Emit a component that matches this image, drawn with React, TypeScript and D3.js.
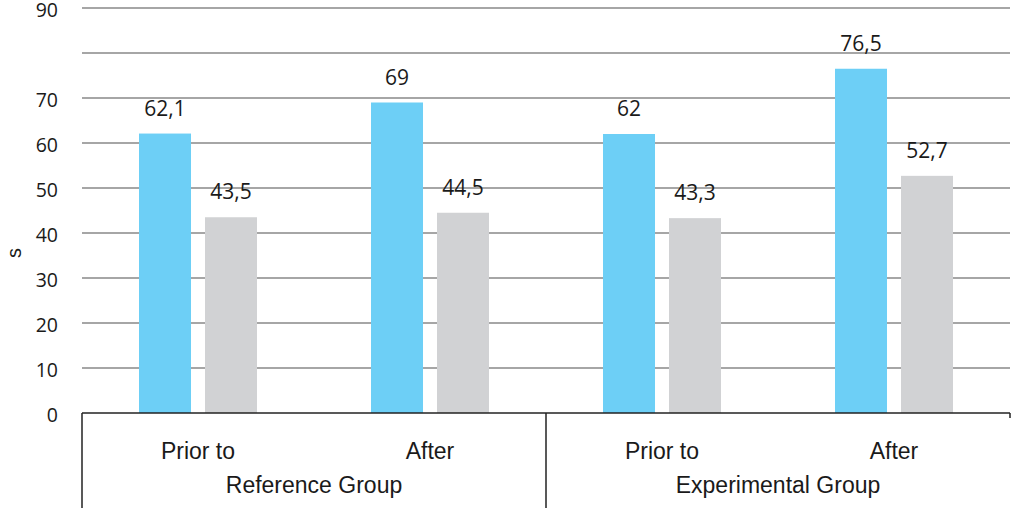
import React from "react";
import * as d3 from "d3";

const categories = ["Prior to", "After", "Prior to", "After"];
const groups = ["Reference Group", "Experimental Group"];
const seriesBlue = [62.1, 69, 62, 76.5];
const seriesGray = [43.5, 44.5, 43.3, 52.7];
const yTicks = [0, 10, 20, 30, 40, 50, 60, 70, 90];
const gridTicks = [10, 20, 30, 40, 50, 60, 70, 80, 90];

const W = 1013;
const H = 508;
const left = 82;
const right = 1010;
const top = 8;
const bottom = 413;

const fmt = (v: number) => String(v).replace(".", ",");

export default function App() {
  const y = d3.scaleLinear().domain([0, 90]).range([bottom, top]);
  const x = d3.scaleBand<number>().domain(d3.range(categories.length)).range([left, right]);
  const inner = d3.scaleBand<number>().domain([0, 1]).range([0, 118]).paddingInner(0.212);
  const barW = inner.bandwidth();
  const groupX = d3.scaleBand<number>().domain(d3.range(groups.length)).range([left, right]);
  const series = [
    { vals: seriesBlue, color: "#6dcff6" },
    { vals: seriesGray, color: "#d1d2d4" },
  ];
  return (
    <svg width={W} height={H} style={{ position: "absolute", left: 0, top: 0 }}>
      {gridTicks.map((t) => (
        <line key={t} x1={left} x2={right} y1={y(t)} y2={y(t)} stroke="#a6a6a6" strokeWidth={2} />
      ))}
      {yTicks.map((t) => (
        <text key={t} x={58} y={y(t) + 8.5} textAnchor="end" fontFamily="Open Sans" fontSize={19.5} fill="#1a1a1a">
          {t}
        </text>
      ))}
      <text transform={`translate(21,253) rotate(-90)`} textAnchor="middle" fontFamily="Liberation Sans" fontSize={20} fill="#1a1a1a">
        s
      </text>
      {categories.map((c, i) => {
        const cx = (x(i) as number) + x.bandwidth() / 2 - 59;
        return series.map((s, j) => {
          const bx = cx + (inner(j) as number);
          const v = s.vals[i];
          return (
            <g key={`${i}-${j}`}>
              <rect x={bx} y={y(v)} width={barW} height={bottom - y(v)} fill={s.color} />
              <text x={bx + barW / 2} y={y(v) - 18} textAnchor="middle" fontFamily="Open Sans" fontSize={21} fill="#1a1a1a">
                {fmt(v)}
              </text>
            </g>
          );
        });
      })}
      <line x1={left} x2={right} y1={bottom} y2={bottom} stroke="#222" strokeWidth={1.5} />
      {groups.map((g, i) => (
        <line key={g} x1={groupX(i) as number} x2={groupX(i) as number} y1={bottom} y2={H} stroke="#222" strokeWidth={1.5} />
      ))}
      <line x1={right} x2={right} y1={bottom} y2={bottom + 5} stroke="#222" strokeWidth={1.5} />
      {categories.map((c, i) => (
        <text key={i} x={(x(i) as number) + x.bandwidth() / 2} y={459} textAnchor="middle" fontFamily="Liberation Sans" fontSize={23} fill="#1a1a1a">
          {c}
        </text>
      ))}
      {groups.map((g, i) => (
        <text key={g} x={(groupX(i) as number) + groupX.bandwidth() / 2} y={493} textAnchor="middle" fontFamily="Liberation Sans" fontSize={23} fill="#1a1a1a">
          {g}
        </text>
      ))}
    </svg>
  );
}
